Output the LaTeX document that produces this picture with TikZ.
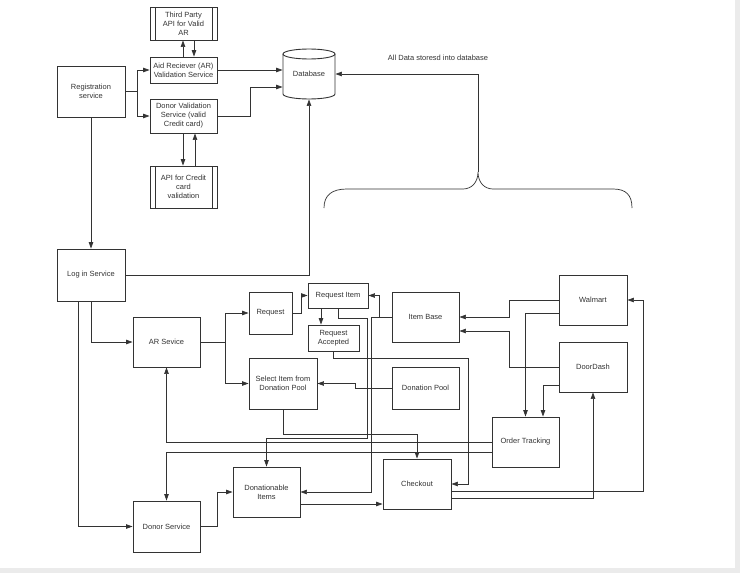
\documentclass[tikz,border=0pt]{standalone}
\usepackage{fontspec}
\setmainfont{Liberation Sans}
\usetikzlibrary{arrows.meta}
\begin{document}
\begin{tikzpicture}[x=1pt,y=-1pt,line width=.7pt,draw=black!80,
	box/.style={draw=black!80,line width=.9pt,text=black!80,minimum width=67,minimum height=50,align=center,inner sep=1pt,font=\fontsize{7.5}{9}\selectfont},
	proc/.style={box,path picture={\draw[line width=.9pt] ([xshift=5pt]path picture bounding box.north west)--([xshift=5pt]path picture bounding box.south west) ([xshift=-5pt]path picture bounding box.north east)--([xshift=-5pt]path picture bounding box.south east);}},
	arr/.style={-{Triangle[length=6.5pt,width=4.5pt]}}]%SYSTEM
	\fill[gray!16] (0,0) rectangle (740,573);
	\fill[white] (0,0) rectangle (735,568);
	\useasboundingbox (0,0) rectangle (740,573);
	% top part
	\node[proc,minimum height=33] (tp) at (183.5,23.5) {Third Party\\API for Valid\\AR};
	\node[box,minimum height=26] (arv) at (183.5,70) {Aid Reciever (AR)\\Validation Service};
	\node[box,minimum width=68,minimum height=51] (reg) at (91,91.5) {Registration\\service};
	\node[box,minimum height=34] (dv) at (183.5,116) {Donor Validation\\Service (valid\\Credit card)};
	\node[proc,minimum height=42] (cc) at (183.5,187) {API for Credit\\card\\validation};
	\node[box,draw=none,minimum width=52] (db) at (309,74) {Database};
	\draw[line width=.9pt] (283,54)--(283,94) arc[start angle=180,end angle=0,x radius=26,y radius=5]--(335,54);
	\draw[line width=.9pt] (309,54) ellipse[x radius=26,y radius=5];
	\node[text=black!80,font=\fontsize{7.5}{9}\selectfont] (lbl) at (438,58) {All Data storesd into database};
	% lower part
	\node[box,minimum width=68,minimum height=52] (login) at (91,275) {Log in Service};
	\node[box] (ars) at (166.5,342) {AR Sevice};
	\node[box,minimum width=43,minimum height=42] (req) at (270.5,313) {Request};
	\node[box,minimum width=60,minimum height=25] (ri) at (338,295.5) {Request Item};
	\node[box,minimum width=51,minimum height=26] (ra) at (333.5,338) {Request\\Accepted};
	\node[box,minimum width=68,minimum height=51] (sel) at (283,383.5) {Select Item from\\Donation Pool};
	\node[box] (ib) at (425.5,317) {Item Base};
	\node[box,minimum height=42] (dp) at (425.5,388) {Donation Pool};
	\node[box,minimum width=68] (wm) at (593,300) {Walmart};
	\node[box,minimum width=68] (dd) at (593,367) {DoorDash};
	\node[box] (ot) at (525.5,442) {Order Tracking};
	\node[box,minimum width=68] (co) at (417,484) {Checkout};
	\node[box] (don) at (266.5,492) {Donationable\\Items};
	\node[box,minimum height=51] (dsv) at (166.5,526.5) {Donor Service};
	% brace
	\draw (324,208) .. controls (324,195) and (332,189) .. (347,189) -- (463,189) .. controls (472,189) and (478,182) .. (478,172) coordinate (bc) .. controls (478,182) and (484,189) .. (493,189) -- (613,189) .. controls (626,189) and (632,195) .. (632,208);
	% connectors
	\draw[arr] (reg.east) -- ++(12,0) coordinate (rj) |- (arv.west);
	\draw[arr] (rj) |- (dv.west);
	\draw[arr] (arv.north -| 183,0) -- (tp.south -| 183,0);
	\draw[arr] (tp.south -| 194,0) -- (arv.north -| 194,0);
	\draw[arr] (dv.south -| 183,0) -- (cc.north -| 183,0);
	\draw[arr] (cc.north -| 195,0) -- (dv.south -| 195,0);
	\draw[arr] (arv.east) -- (db.west |- arv.east);
	\draw[arr] (dv.east) -- (250,116) |- (db.west |- 0,87);
	\draw[arr] (bc) |- (db.east);
	\draw[arr] (reg.south) -- (login.north);
	\draw[arr] (login.east) -| (db.south);
	\draw[arr] (login.south) |- (ars.west);
	\draw[arr] (login.south -| 78,0) |- (dsv.west);
	\draw[arr] (ars.east) -- ++(25,0) coordinate (aj) |- (req.west);
	\draw[arr] (aj) |- (sel.west);
	\draw[arr] (req.east) -- ++(9,0) |- (ri.west);
	\draw[arr] (ri.south -| 321,0) -- (ra.north -| 321,0);
	\draw[arr] (ib.west) -- (379,317) |- (ri.east);
	\draw[arr] (ib.west) -- (371,317) |- (don.east);
	\draw[arr] (wm.west) -- (509,300) |- (ib.east);
	\draw[arr] (dd.west) -- (509,367) |- (ib.east |- 0,331);
	\draw[arr] (wm.west |- 0,313) -| (ot.north);
	\draw[arr] (dd.west |- 0,385) -| (ot.north -| 543,0);
	\draw[arr] (dp.west) -- (355,388) |- (sel.east);
	\draw[arr] (ri.south) |- (367,318) -- (367,438) -| (don.north);
	\draw[arr] (ra.south) |- (468,358) |- (co.east);
	\draw[arr] (sel.south) -- (283,434) -| (co.north);
	\draw[arr] (ot.west) -| (ars.south);
	\draw[arr] (ot.west |- 0,452) -| (dsv.north);
	\draw[arr] (dsv.east) -- (217,526.5) |- (don.west);
	\draw[arr] (don.east |- 0,504) -- (co.west |- 0,504);
	\draw[arr] (co.east |- 0,491) -- (643,491) |- (wm.east);
	\draw[arr] (co.east |- 0,498) -| (dd.south);
\end{tikzpicture}
\end{document}
